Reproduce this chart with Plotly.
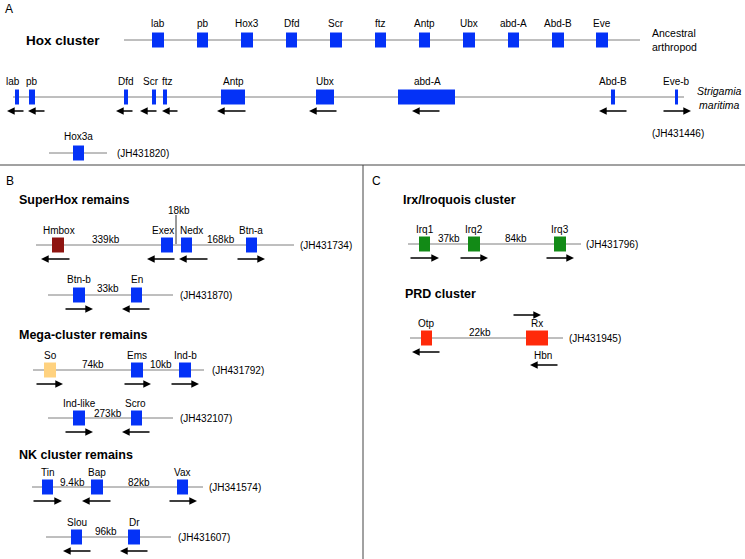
import plotly.graph_objects as go

FONT = "Liberation Sans, Arial, Helvetica, sans-serif"
BLUE = "#0432F7"
DARKRED = "#8E1410"
ORANGE = "#FFD27F"
GREEN = "#128A16"
RED = "#FF2A0A"
LINEC = "#7F7F7F"

# ---------------- data ----------------
# Ancestral arthropod Hox cluster
anc_genes = ["lab", "pb", "Hox3", "Dfd", "Scr", "ftz", "Antp", "Ubx", "abd-A", "Abd-B", "Eve"]
anc_x0 = [152, 197, 241, 286, 330, 375, 419, 463, 508, 552, 596]
anc_x1 = [164, 208, 253, 297, 342, 386, 430, 475, 519, 564, 608]

# Strigamia maritima Hox cluster
str_genes = ["lab", "pb", "Dfd", "Scr", "ftz", "Antp", "Ubx", "abd-A", "Abd-B", "Eve-b"]
str_x0 = [15, 29, 124, 152, 163, 221, 316, 398, 611, 675]
str_x1 = [19, 35, 128, 156, 167, 245, 334, 455, 615, 678]
str_lab = [13, 32, 126, 151, 167, 233, 325, 427, 613, 676]
str_tail = [25, 46, 134, 158, 179, 247, 338, 441, 628, 662]
str_head = [7, 28, 116, 140, 162, 217, 309, 412, 599, 691]

hox3a_genes = ["Hox3a"]
hox3a_x0 = [73]
hox3a_x1 = [84]

# SuperHox remains
sh1_genes = ["Hmbox", "Exex", "Nedx", "Btn-a"]
sh1_x0 = [52, 161, 181, 246]
sh1_x1 = [64, 173, 192, 257]
sh1_lab = [59, 163, 191, 251]
sh1_tail = [71, 176, 209, 236]
sh1_head = [41, 147, 179, 265]
sh1_kb = ["339kb", "168kb"]
sh1_kb_x = [106, 221]

sh2_genes = ["Btn-b", "En"]
sh2_x0 = [73, 131]
sh2_x1 = [85, 142]
sh2_tail = [64, 151]
sh2_head = [93, 122]
sh2_kb = ["33kb"]
sh2_kb_x = [108]

# Mega-cluster remains
mc1_genes = ["So", "Ems", "Ind-b"]
mc1_x0 = [44, 131, 179]
mc1_x1 = [56, 143, 191]
mc1_tail = [35, 123, 170]
mc1_head = [63, 151, 199]
mc1_kb = ["74kb", "10kb"]
mc1_kb_x = [93, 161]

mc2_genes = ["Ind-like", "Scro"]
mc2_x0 = [73, 131]
mc2_x1 = [85, 142]
mc2_tail = [64, 151]
mc2_head = [93, 122]
mc2_kb = ["273kb"]
mc2_kb_x = [108]

# NK cluster remains
nk1_genes = ["Tin", "Bap", "Vax"]
nk1_x0 = [42, 91, 177]
nk1_x1 = [53, 103, 188]
nk1_tail = [32, 112, 168]
nk1_head = [62, 82, 197]
nk1_kb = ["9.4kb", "82kb"]
nk1_kb_x = [72, 139]

nk2_genes = ["Slou", "Dr"]
nk2_x0 = [71, 128]
nk2_x1 = [82, 140]
nk2_tail = [92, 149]
nk2_head = [63, 120]
nk2_kb = ["96kb"]
nk2_kb_x = [106]

# Irx / Iroquois cluster
irx_genes = ["Irq1", "Irq2", "Irq3"]
irx_x0 = [419, 468, 554]
irx_x1 = [430, 480, 566]
irx_tail = [409, 459, 545]
irx_head = [439, 488, 574]
irx_kb = ["37kb", "84kb"]
irx_kb_x = [449, 516]

# PRD cluster
prd_genes = ["Otp", "Rx"]
prd_x0 = [421, 526]
prd_x1 = [432, 548]
prd_kb = ["22kb"]
prd_kb_x = [480]

# ---------------- drawing ----------------
fig = go.Figure()
shapes = []
ann = []


def text(x, y, s, size=10, bold=False, xanchor="center", align="center"):
    if bold:
        s = "<b>" + s + "</b>"
    ann.append(dict(x=x, y=y, xref="x", yref="y", text=s, showarrow=False,
                    xanchor=xanchor, yanchor="middle", align=align,
                    font=dict(family=FONT, size=size, color="black")))


def hline(x0, x1, y, color=LINEC, width=1):
    shapes.append(dict(type="line", xref="x", yref="y", x0=x0, x1=x1, y0=y, y1=y,
                       line=dict(color=color, width=width), layer="below"))


def box(x0, x1, y, color, h=7.5):
    shapes.append(dict(type="rect", xref="x", yref="y", x0=x0, x1=x1, y0=y - h, y1=y + h,
                       fillcolor=color, line=dict(width=0), layer="above"))


def arrow(tail, head, y):
    ann.append(dict(x=head, y=y, ax=tail, ay=y, xref="x", yref="y", axref="x", ayref="y",
                    text="", showarrow=True, arrowhead=2, arrowsize=1.1, arrowwidth=1.4,
                    arrowcolor="black"))


def track(y, lx0, lx1, names, x0s, x1s, color, labx=None, tails=None, heads=None,
          kb=None, kbx=None, ident=None, identx=None, laby=15, kby=6):
    hline(lx0, lx1, y)
    for i, n in enumerate(names):
        box(x0s[i], x1s[i], y, color if isinstance(color, str) else color[i])
        lx = labx[i] if labx else (x0s[i] + x1s[i]) / 2
        text(lx, y - laby, n)
    if tails:
        for t, h in zip(tails, heads):
            arrow(t, h, y + 14)
    if kb:
        for k, kx in zip(kb, kbx):
            text(kx, y - kby, k)
    if ident:
        text(identx, y, ident, xanchor="left")


# Panel A
text(3, 9, "A", size=12, xanchor="left")
text(24, 40, "Hox cluster", size=13.5, bold=True, xanchor="left")
track(40, 124, 640, anc_genes, anc_x0, anc_x1, BLUE, laby=17)
text(650, 40, "Ancestral<br>arthropod", size=10.5, xanchor="left", align="left")

track(97, 13, 684, str_genes, str_x0, str_x1, BLUE, labx=str_lab,
      tails=str_tail, heads=str_head, laby=16)
text(719, 98, "<i>Strigamia<br>maritima</i>", size=10.5)
text(650, 133, "(JH431446)", xanchor="left")

track(153, 49, 107, hox3a_genes, hox3a_x0, hox3a_x1, BLUE, laby=17, ident="(JH431820)", identx=115)

# Panel dividers
hline(0, 745, 165, color="#444444", width=1)
shapes.append(dict(type="line", xref="x", yref="y", x0=363, x1=363, y0=165, y1=559,
                   line=dict(color="#444444", width=1)))

# Panel B
text(4, 181, "B", size=12, xanchor="left")
text(17, 200, "SuperHox remains", size=12.5, bold=True, xanchor="left")
track(245, 36, 294, sh1_genes, sh1_x0, sh1_x1, [DARKRED, BLUE, BLUE, BLUE], labx=sh1_lab,
      tails=sh1_tail, heads=sh1_head, kb=sh1_kb, kbx=sh1_kb_x, ident="(JH431734)", identx=298)
shapes.append(dict(type="line", xref="x", yref="y", x0=176, x1=176, y0=215, y1=244,
                   line=dict(color="#333333", width=1)))
text(179, 210, "18kb")

track(295, 48, 173, sh2_genes, sh2_x0, sh2_x1, BLUE, tails=sh2_tail, heads=sh2_head,
      kb=sh2_kb, kbx=sh2_kb_x, ident="(JH431870)", identx=178, laby=16, kby=7)

text(17, 335, "Mega-cluster remains", size=12.5, bold=True, xanchor="left")
track(370, 33, 204, mc1_genes, mc1_x0, mc1_x1, [ORANGE, BLUE, BLUE], tails=mc1_tail,
      heads=mc1_head, kb=mc1_kb, kbx=mc1_kb_x, ident="(JH431792)", identx=210)

track(418, 48, 173, mc2_genes, mc2_x0, mc2_x1, BLUE, labx=[79, 135], tails=mc2_tail,
      heads=mc2_head, kb=mc2_kb, kbx=mc2_kb_x, ident="(JH432107)", identx=178, kby=5)

text(17, 455, "NK cluster remains", size=12.5, bold=True, xanchor="left")
track(487, 32, 203, nk1_genes, nk1_x0, nk1_x1, BLUE, tails=nk1_tail, heads=nk1_head,
      kb=nk1_kb, kbx=nk1_kb_x, ident="(JH341574)", identx=207, kby=5)

track(537, 46, 171, nk2_genes, nk2_x0, nk2_x1, BLUE, tails=nk2_tail, heads=nk2_head,
      kb=nk2_kb, kbx=nk2_kb_x, ident="(JH431607)", identx=176, kby=6)

# Panel C
text(370, 181, "C", size=12, xanchor="left")
text(401, 200, "Irx/Iroquois cluster", size=12.5, bold=True, xanchor="left")
track(244, 408, 581, irx_genes, irx_x0, irx_x1, GREEN, tails=irx_tail, heads=irx_head,
      kb=irx_kb, kbx=irx_kb_x, ident="(JH431796)", identx=584)

text(403, 294, "PRD cluster", size=12.5, bold=True, xanchor="left")
track(338, 410, 563, prd_genes, prd_x0, prd_x1, RED, kb=prd_kb, kbx=prd_kb_x,
      ident="(JH431945)", identx=567)
arrow(441, 412, 352)          # Otp (reverse)
arrow(512, 541, 315)          # Rx (forward)
text(543, 355, "Hbn")
arrow(559, 530, 365)          # Hbn (reverse)

fig.update_layout(
    width=745, height=559,
    margin=dict(l=0, r=0, t=0, b=0),
    paper_bgcolor="white", plot_bgcolor="white",
    xaxis=dict(range=[0, 745], visible=False, fixedrange=True),
    yaxis=dict(range=[559, 0], visible=False, fixedrange=True),
    shapes=shapes, annotations=ann, showlegend=False,
)
fig.write_html("out.html", config={"displayModeBar": False},
               post_script="document.body.style.margin='0';document.body.style.overflow='hidden';")
